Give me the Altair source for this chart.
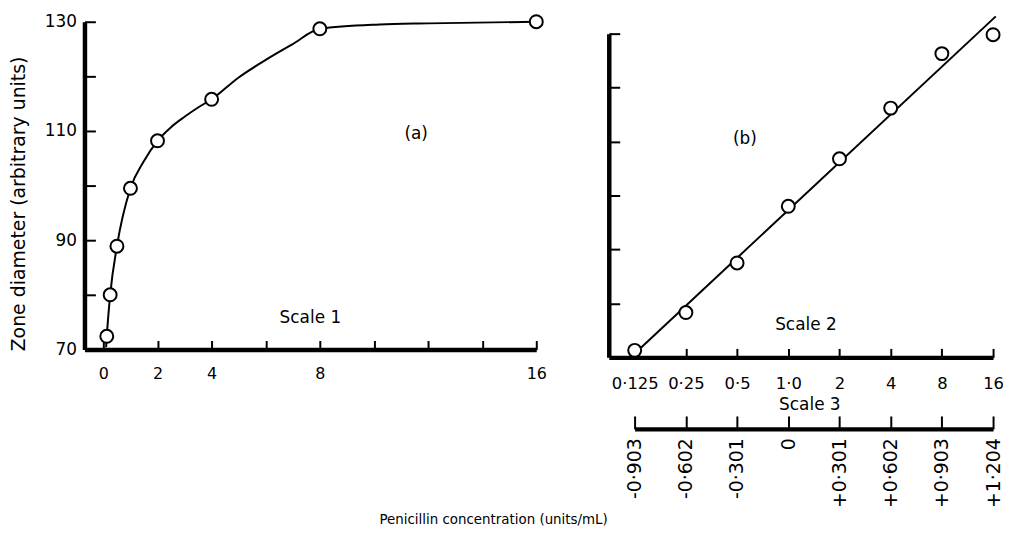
import altair as alt
import pandas as pd

# ---- data ----
conc = [0.125, 0.25, 0.5, 1, 2, 4, 8, 16]
zone_a = [72.4, 80.0, 88.9, 99.5, 108.2, 115.8, 128.7, 130.0]   # panel (a)
zone_b = [71.3, 78.3, 87.5, 98.0, 106.8, 116.2, 126.3, 129.8]   # panel (b)
curve_x = [0.1, 0.125, 0.25, 0.5, 1, 1.5, 2, 2.5, 3, 3.5, 4, 5, 6, 7, 8, 10.2, 12, 16]
curve_y = [70.4, 72.4, 80.0, 88.9, 99.5, 104.5, 108.2, 110.7, 112.6, 114.3, 115.8, 119.8,
           123.0, 125.9, 128.7, 129.5, 129.7, 130.0]
fit_x = [0.136, 16.6]
fit_y = [71.8, 133.2]

scale1_ticks = [0, 2, 4, 6, 8, 10, 12, 14, 16]
scale1_labels = ["0", "2", "4", "", "8", "", "", "", "16"]
scale2_labels = ["0·125", "0·25", "0·5", "1·0", "2", "4", "8", "16"]
scale3_ticks = [-0.903, -0.602, -0.301, 0, 0.301, 0.602, 0.903, 1.204]
scale3_labels = ["-0·903", "-0·602", "-0·301", "0", "+0·301", "+0·602", "+0·903", "+1·204"]
y_ticks = [70, 80, 90, 100, 110, 120, 130]
y_labels = ["70", "", "90", "", "110", "", "130"]

FONT = "DejaVu Sans"
W, H = 915, 338


def ternary(vals, labels):
    return " : ".join(f"datum.value == {v} ? '{l}'" for v, l in zip(vals, labels)) + " : ''"


common = dict(domainColor="black", domainWidth=4.5, tickColor="black", tickWidth=2,
              labelColor="black", labelFont=FONT, grid=False, labelFlush=False,
              labelOverlap=False, titleFont=FONT, titleColor="black",
              titleFontWeight="normal")

# ---- scales ----
xL_scale = alt.Scale(domain=[-0.7, 16], range=[0, 455], nice=False, zero=False)
yL_scale = alt.Scale(domain=[70, 130], range=[330, 0], nice=False, zero=False)
xR_scale = alt.Scale(type="log", base=2, domain=[0.0880, 16], range=[528, 915], nice=False)
yR_scale = alt.Scale(domain=[70, 130], range=[338, 12], nice=False, zero=False)
xR3_scale = alt.Scale(domain=[-0.903, 1.204], range=[554, 915], nice=False, zero=False)

# ---- axes ----
xL_axis = alt.Axis(orient="top", offset=-330, values=scale1_ticks,
                   labelExpr=ternary(scale1_ticks, scale1_labels),
                   tickSize=9, labelPadding=-(9 + 16), labelBaseline="top", labelAlign="center",
                   labelFontSize=16, title="Scale 1", titleX=227, titleY=-32,
                   titleAlign="center", titleBaseline="middle", titleFontSize=17, **common)
yL_axis = alt.Axis(orient="right", offset=-W, values=y_ticks,
                   labelExpr=ternary(y_ticks, y_labels),
                   tickSize=11, labelPadding=-(11 + 8), labelAlign="right", labelBaseline="middle",
                   labelFontSize=17, title="Zone diameter (arbitrary units)", titleAngle=270,
                   titleX=-66, titleY=183, titleAlign="center", titleBaseline="middle",
                   titleFontSize=19, **common)
yR_axis = alt.Axis(orient="right", offset=-(W - 528), values=y_ticks[1:], labels=False,
                   tickSize=11, title=None, **common)
xR_axis = alt.Axis(orient="top", offset=-H, values=conc, labelExpr=ternary(conc, scale2_labels),
                   tickSize=9, labelPadding=-(9 + 18), labelBaseline="top", labelAlign="center",
                   labelFontSize=16.5, title="Scale 2", titleX=726, titleY=-33,
                   titleAlign="center", titleBaseline="middle", titleFontSize=17, **common)
xR3_axis = alt.Axis(orient="top", offset=-410, values=scale3_ticks,
                    labelExpr=ternary(scale3_ticks, scale3_labels),
                    tickSize=13, labelAngle=270, labelAlign="right", labelBaseline="middle",
                    labelPadding=-(13 + 9), labelFontSize=19, title="Scale 3", titleX=730,
                    titleY=-24, titleAlign="center", titleBaseline="middle", titleFontSize=17,
                    **common)

df = pd.DataFrame({"conc": conc, "zone_a": zone_a, "zone_b": zone_b})
df_curve = pd.DataFrame({"cx": curve_x, "cy": curve_y})
df_fit = pd.DataFrame({"fx": fit_x, "fy": fit_y})
df_s3 = pd.DataFrame({"s3": scale3_ticks})

point_style = dict(shape="circle", filled=True, fill="white", stroke="black", strokeWidth=2,
                   size=170, opacity=1, clip=False)

# ---- panel (a) ----
curve = alt.Chart(df_curve).mark_line(color="black", strokeWidth=2, interpolate="monotone",
                                      clip=False).encode(
    x=alt.X("cx:Q", scale=xL_scale, axis=xL_axis),
    y=alt.Y("cy:Q", scale=yL_scale, axis=yL_axis))
pts_a = alt.Chart(df).mark_point(**point_style).encode(
    x=alt.X("conc:Q", scale=xL_scale, axis=xL_axis),
    y=alt.Y("zone_a:Q", scale=yL_scale, axis=yL_axis))
lab_a = alt.Chart(pd.DataFrame({"t": ["(a)"]})).mark_text(
    font=FONT, fontSize=17, color="black").encode(text="t:N", x=alt.value(334), y=alt.value(113))
left = alt.layer(curve, pts_a, lab_a)

# ---- panel (b) ----
fit = alt.Chart(df_fit).mark_line(color="black", strokeWidth=2, clip=False).encode(
    x=alt.X("fx:Q", scale=xR_scale, axis=xR_axis),
    y=alt.Y("fy:Q", scale=yR_scale, axis=yR_axis))
pts_b = alt.Chart(df).mark_point(**point_style).encode(
    x=alt.X("conc:Q", scale=xR_scale, axis=xR_axis),
    y=alt.Y("zone_b:Q", scale=yR_scale, axis=yR_axis))
lab_b = alt.Chart(pd.DataFrame({"t": ["(b)"]})).mark_text(
    font=FONT, fontSize=17, color="black").encode(text="t:N", x=alt.value(665), y=alt.value(118))
right = alt.layer(fit, pts_b, lab_b)

# ---- scale 3 (log10 units) ----
s3 = alt.Chart(df_s3).mark_point(opacity=0).encode(
    x=alt.X("s3:Q", scale=xR3_scale, axis=xR3_axis))

xtitle = alt.Chart(pd.DataFrame({"t": ["Penicillin concentration (units/mL)"]})).mark_text(
    font=FONT, fontSize=13.5, color="black").encode(text="t:N", x=alt.value(412), y=alt.value(502))

chart = alt.layer(left, right, s3, xtitle).resolve_scale(
    x="independent", y="independent"
).properties(
    width=W, height=H,
    autosize=alt.AutoSizeParams(type="none"),
    padding={"left": 77, "top": 12, "right": 10, "bottom": 170},
    background="white",
).configure_view(strokeWidth=0)

chart.save("out.html", embed_options={"renderer": "svg", "actions": False})
